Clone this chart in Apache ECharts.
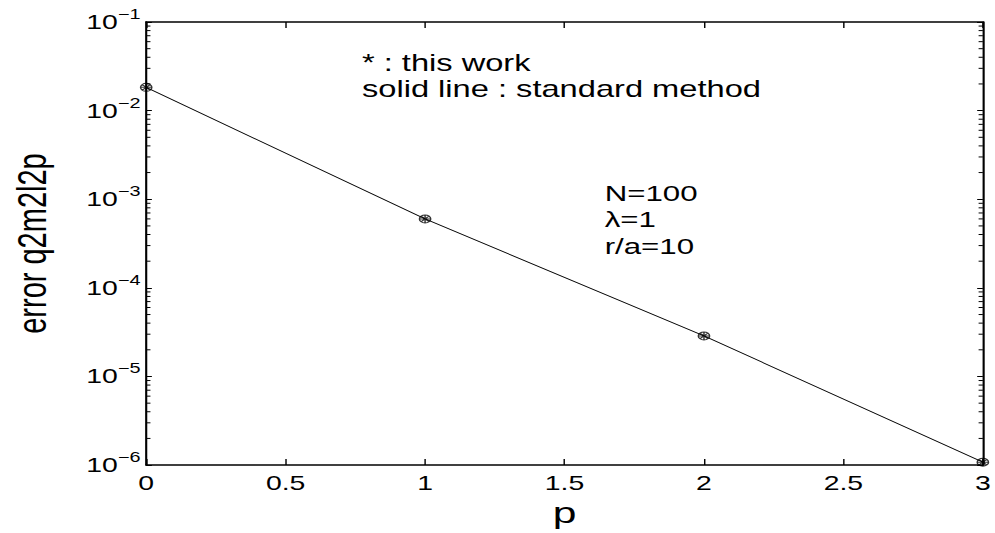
<!DOCTYPE html>
<html>
<head>
<meta charset="utf-8">
<script src="https://cdn.jsdelivr.net/npm/echarts@6/dist/echarts.min.js"></script>
<style>
  html, body { margin: 0; padding: 0; background: #fff; overflow: hidden; }
  /* the reference figure is stretched sideways, so the chart is drawn narrow and scaled */
  #chart { width: 701px; height: 533px; transform: scaleX(1.4194); transform-origin: 0 0; }
</style>
</head>
<body>
<div id="chart"></div>
<script>
const pValues = [0, 1, 2, 3];
const thisWork = [1.83e-2, 6.0e-4, 2.87e-5, 1.08e-6];
const standardMethod = [1.83e-2, 6.0e-4, 2.87e-5, 1.08e-6];
const decades = [-6, -5, -4, -3, -2];
const minorSteps = [2, 3, 4, 5, 6, 7, 8, 9];

const font = "'Liberation Sans', Arial, Helvetica, sans-serif";

const minorTicks = [];
decades.forEach(d => {
  minorSteps.forEach(k => minorTicks.push([0, k * Math.pow(10, d)]));
});

function expLabel(v) {
  const e = Math.round(Math.log10(v));
  return '{b|10}{s|' + (e < 0 ? '\u2212' : '') + Math.abs(e) + '}';
}

const frame = { onZero: false, lineStyle: { color: '#000', width: 1.5 } };
const tickX = { inside: true, length: 6, lineStyle: { color: '#000', width: 1 } };
const tickY = { inside: true, length: 4, lineStyle: { color: '#000', width: 1 } };

const chart = echarts.init(document.getElementById('chart'), null, { renderer: 'svg' });

const option = {
  animation: false,
  backgroundColor: '#fff',
  grid: { left: 103, right: 7, top: 22, bottom: 65 },
  xAxis: [
    {
      type: 'value',
      min: 0, max: 3, interval: 0.5,
      name: 'p',
      nameLocation: 'middle',
      nameGap: 24,
      nameTextStyle: { fontFamily: font, fontSize: 30, color: '#000' },
      axisLine: frame,
      axisTick: tickX,
      axisLabel: { fontFamily: font, fontSize: 20, color: '#000', margin: 8 },
      splitLine: { show: false }
    },
    {
      type: 'value',
      position: 'top',
      min: 0, max: 3, interval: 0.5,
      axisLine: frame,
      axisTick: tickX,
      axisLabel: { show: false },
      splitLine: { show: false }
    }
  ],
  yAxis: [
    {
      type: 'log',
      logBase: 10,
      min: 1e-6, max: 1e-1,
      name: 'error q2m2l2p',
      nameLocation: 'middle',
      nameRotate: 90,
      nameGap: 66,
      nameTextStyle: { fontFamily: font, fontSize: 29, color: '#000' },
      axisLine: frame,
      axisTick: tickY,
      axisLabel: {
        margin: 4,
        formatter: expLabel,
        rich: {
          b: { fontFamily: font, fontSize: 20, color: '#000', lineHeight: 30 },
          s: { fontFamily: font, fontSize: 14, color: '#000', lineHeight: 14, verticalAlign: 'top' }
        }
      },
      splitLine: { show: false }
    },
    {
      type: 'log',
      logBase: 10,
      position: 'right',
      min: 1e-6, max: 1e-1,
      axisLine: frame,
      axisTick: tickY,
      axisLabel: { show: false },
      splitLine: { show: false }
    }
  ],
  graphic: [
    { type: 'text', left: 255, top: 50, style: { text: '* : this work\nsolid line : standard method', fontFamily: font, fontSize: 23, lineHeight: 26, fill: '#000' } },
    { type: 'text', left: 426, top: 180, style: { text: 'N=100\n\u03bb=1\nr/a=10', fontFamily: font, fontSize: 22, lineHeight: 26.5, fill: '#000' } }
  ],
  series: [
    {
      name: 'standard method',
      type: 'line',
      data: pValues.map((p, i) => [p, standardMethod[i]]),
      showSymbol: false,
      lineStyle: { color: '#000', width: 0.8 },
      z: 2
    },
    {
      name: 'this work',
      type: 'scatter',
      data: pValues.map((p, i) => [p, thisWork[i]]),
      symbol: 'path://M10,5A5,5 0 1 1 0,5A5,5 0 1 1 10,5ZM0,5L10,5M5,0L5,10M1.6,1.6L8.4,8.4M1.6,8.4L8.4,1.6',
      symbolSize: 8,
      itemStyle: { color: 'transparent', borderColor: '#000', borderWidth: 1 },
      z: 3
    },
    {
      name: 'minor ticks',
      type: 'custom',
      silent: true,
      data: minorTicks,
      renderItem: function (params, api) {
        const v = api.value(1);
        const l = api.coord([0, v]);
        const r = api.coord([3, v]);
        const st = { stroke: '#000', lineWidth: 1 };
        return {
          type: 'group',
          children: [
            { type: 'line', shape: { x1: l[0], y1: l[1], x2: l[0] + 3, y2: l[1] }, style: st },
            { type: 'line', shape: { x1: r[0] - 3, y1: r[1], x2: r[0], y2: r[1] }, style: st }
          ]
        };
      },
      z: 1
    }
  ]
};

chart.setOption(option);
</script>
</body>
</html>
